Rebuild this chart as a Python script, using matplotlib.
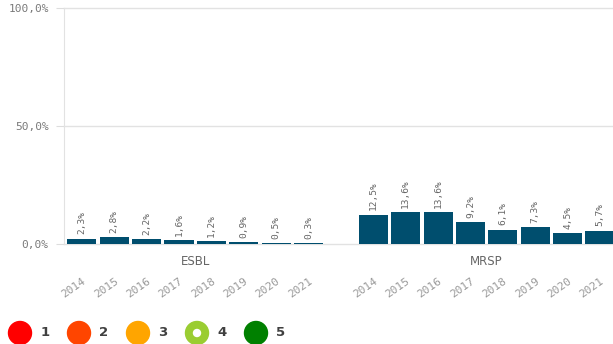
import matplotlib.pyplot as plt
from matplotlib.patches import Circle

# Resistenzanteile je Gruppe und Jahr
groups = ['ESBL', 'MRSP']
years = ['2014', '2015', '2016', '2017', '2018', '2019', '2020', '2021']
esbl = [2.3, 2.8, 2.2, 1.6, 1.2, 0.9, 0.5, 0.3]
mrsp = [12.5, 13.6, 13.6, 9.2, 6.1, 7.3, 4.5, 5.7]
y_ticks = [0, 50, 100]

legend_labels = ['1', '2', '3', '4', '5']
legend_colors = ['#ff0000', '#ff4500', '#ffa500', '#9acd32', '#008000']

W, H = 613, 344
fig = plt.figure(figsize=(W / 100, H / 100), dpi=100)
ax = fig.add_axes([64 / W, 1 - 244 / H, 1 - 64 / W, (244 - 8) / H])

bar_color = '#004e6e'
grey = '#7a7a7a'
mono = 'DejaVu Sans Mono'

series = [esbl, mrsp]
gap = 1
for g, (name, vals) in enumerate(zip(groups, series)):
    start = g * (len(years) + gap)
    xs = [start + i for i in range(len(years))]
    ax.bar(xs, vals, width=0.9, color=bar_color, zorder=3)
    for x, yr, v in zip(xs, years, vals):
        ax.annotate(f'{v:.1f}%'.replace('.', ','), (x, v), xytext=(0, 3),
                    textcoords='offset points', rotation=90, ha='center',
                    va='bottom', fontsize=6.8, color='#666666', family=mono)
        ax.annotate(yr, (x, 0), xycoords=('data', 'axes fraction'),
                    xytext=(0, -23), textcoords='offset points', rotation=35,
                    rotation_mode='anchor', ha='right', va='top',
                    fontsize=8, color='#999999', family=mono)
    mid = start + (len(years) - 1) / 2
    ax.annotate(name, (mid, 0), xycoords=('data', 'axes fraction'),
                xytext=(0, -8), textcoords='offset points', ha='center',
                va='top', fontsize=8.5, color='#666666')

ax.set_xlim(-0.55, 16.4)
ax.set_ylim(0, 100)
ax.set_yticks(y_ticks)
ax.set_yticklabels([f'{t:.1f}%'.replace('.', ',') for t in y_ticks],
                   family=mono, fontsize=8, color=grey)
ax.tick_params(axis='y', length=6, color='#dddddd', pad=5)
ax.set_xticks([])
ax.grid(axis='y', color='#e2e2e2', linewidth=1, zorder=0)
for side in ['top', 'right', 'bottom']:
    ax.spines[side].set_visible(False)
ax.spines['left'].set_color('#e2e2e2')
for line in ax.get_ygridlines():
    line.set_clip_on(False)

# Legende unten in Pixelkoordinaten
lax = fig.add_axes([0, 0, 1, 1])
lax.set_xlim(0, W)
lax.set_ylim(H, 0)
lax.axis('off')
for i, (lab, col) in enumerate(zip(legend_labels, legend_colors)):
    cx = 20 + i * 59
    lax.add_patch(Circle((cx, 333), 11.5, color=col))
    if lab == '4':
        lax.add_patch(Circle((cx, 333), 3.5, color='white'))
    lax.text(cx + 25, 333, lab, ha='center', va='center', fontsize=9.5,
             fontweight='bold', color='#404040')

fig.savefig('out.png', dpi=100)
